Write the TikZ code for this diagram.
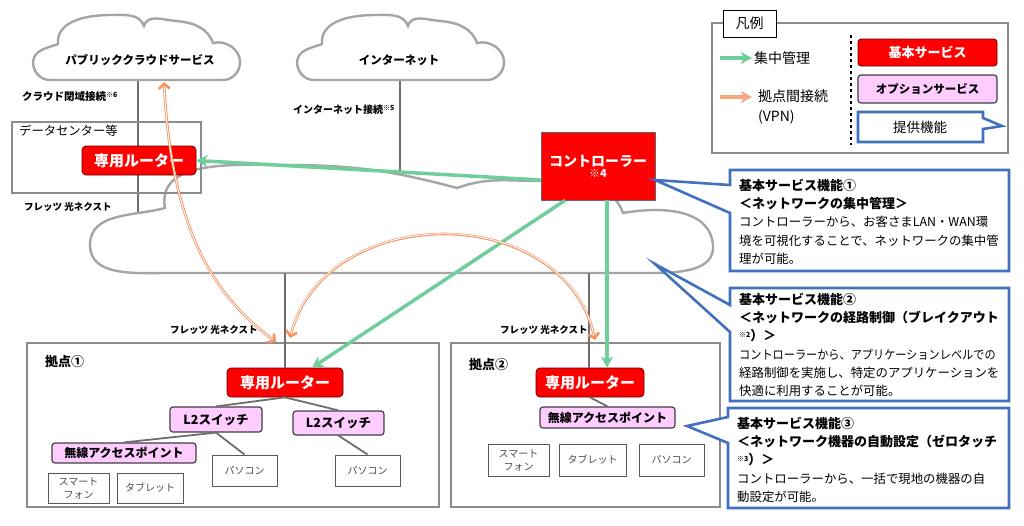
\documentclass[tikz,border=0pt]{standalone}
\usepackage{fontspec}
\setmainfont{Noto Sans CJK JP}
\usepackage{graphicx}
\usetikzlibrary{arrows.meta,positioning}

\definecolor{cloudgray}{RGB}{165,165,165}
\definecolor{linkgray}{RGB}{110,110,110}
\definecolor{boxgray}{RGB}{140,140,140}
\definecolor{nwred}{RGB}{255,0,0}
\definecolor{optpink}{RGB}{255,204,255}
\definecolor{mgmtgreen}{RGB}{112,206,155}
\definecolor{vpnorange}{RGB}{244,146,96}
\definecolor{calloutblue}{RGB}{65,113,190}

\newcommand\chead[1]{{\fontsize{13}{18.3}\selectfont\bfseries #1}}
\newcommand\noteno[1]{\raisebox{3pt}{\fontsize{7}{7}\selectfont #1}}

\begin{document}
\begin{tikzpicture}[x=1pt,y=1pt,
  cloudline/.style={draw=cloudgray,line width=2.4pt,fill=white},
  link/.style={draw=linkgray,line width=1.8pt},
  boxframe/.style={draw=boxgray,line width=1.2pt},
  router/.style={draw=red!35!black,line width=0.7pt,fill=nwred,rounded corners=4pt,text=white,
    font=\fontsize{15}{15}\selectfont\bfseries,inner sep=0pt,minimum height=29pt},
  optbox/.style={draw=black!75,line width=1.2pt,fill=optpink,rounded corners=3pt,
    font=\fontsize{12}{12}\selectfont\bfseries,inner sep=0pt},
  device/.style={draw=black!65,line width=1pt,fill=white,text=black!70,
    font=\fontsize{10}{13}\selectfont,align=center,inner sep=0pt},
  lbl/.style={anchor=west,inner sep=0pt,font=\fontsize{9.5}{9.5}\selectfont\bfseries},
  cloudtext/.style={inner sep=0pt,font=\fontsize{11.5}{11.5}\selectfont\bfseries},
  mgmt/.style={draw=mgmtgreen,line width=3.5pt,-{Stealth[length=11pt,width=12pt,inset=3pt]}},
  vpn/.style={draw=vpnorange,line width=2.6pt,{Straight Barb[length=5pt,width=11pt]}-{Straight Barb[length=5pt,width=11pt]},
    postaction={draw=white,line width=0.9pt,-,shorten >=4pt,shorten <=4pt}},
  vpnkey/.style={draw=vpnorange!80!white,line width=3.5pt,-{Stealth[length=11pt,width=12pt,inset=3pt]}},
  calloutbox/.style={draw=calloutblue,line width=2.6pt,fill=white,line join=miter},
  ctext/.style={anchor=north west,align=left,inner sep=0pt,font=\fontsize{12.4}{18.3}\selectfont}]

\useasboundingbox (0,0) rectangle (1024,-525);

\coordinate (pubB) at (138,-70);
\coordinate (bigT1) at (138,-230);
\coordinate (inetB) at (400,-70);
\coordinate (bigT2) at (400,-190);
\draw[link] (pubB) -- (bigT1);
\draw[link] (inetB) -- (bigT2);

\draw[cloudline,shift={(33,-62)}] (0,0) to[out=85,in=200] (25,18) to[out=95,in=180] (78,47) to[out=0,in=110] (111,36)
  to[out=75,in=175] (143,41) to[out=-5,in=110] (180,19) to[out=15,in=90] (207,0) to[out=-90,in=0] (190,-18)
  -- (17,-18) to[out=180,in=-90] (0,0) -- cycle;
\draw[cloudline,shift={(297,-62)}] (0,0) to[out=85,in=200] (25,18) to[out=95,in=180] (78,47) to[out=0,in=110] (111,36)
  to[out=75,in=175] (143,41) to[out=-5,in=110] (180,19) to[out=15,in=90] (207,0) to[out=-90,in=0] (190,-18)
  -- (17,-18) to[out=180,in=-90] (0,0) -- cycle;
\draw[cloudline] (90,-245) to[out=90,in=195] (165,-208) to[out=100,in=180] (285,-165) to[out=0,in=165] (457,-188)
  to[out=20,in=180] (540,-181) to[out=0,in=110] (623,-213) to[out=10,in=95] (713,-245) to[out=-85,in=0] (650,-273)
  -- (165,-273) to[out=180,in=-90] (90,-245) -- cycle;

\node[cloudtext] (pubt) at (140,-60) {パブリッククラウドサービス};
\node[cloudtext] (inett) at (399,-60) {インターネット};
\node[lbl,font=\fontsize{10.5}{10.5}\selectfont\bfseries] (clt) at (22,-97) {クラウド閉域接続\noteno{※6}};
\node[lbl,font=\fontsize{10}{10}\selectfont\bfseries] (inett2) at (293,-110) {インターネット接続\noteno{※5}};

\draw[boxframe] (12,-122) rectangle (201,-193);
\draw[boxframe] (27,-343) rectangle (439,-507);
\draw[boxframe] (451,-343) rectangle (720,-507);

\node[anchor=west,inner sep=0pt,font=\fontsize{12.3}{12.3}\selectfont] (dct) at (19,-131) {データセンター等};
\node[lbl] (flA) at (24,-207) {フレッツ 光ネクスト};
\node[lbl] (flB) at (170,-330) {フレッツ 光ネクスト};
\node[lbl] (flC) at (500,-330) {フレッツ 光ネクスト};
\node[anchor=west,inner sep=0pt,font=\fontsize{13}{13}\selectfont\bfseries] (sitAt) at (45,-362) {拠点①};
\node[anchor=west,inner sep=0pt,font=\fontsize{13}{13}\selectfont\bfseries] (sitBt) at (469,-365) {拠点②};

\node[router,minimum width=114pt] (dcrt) at (139,-160.5) {専用ルーター};
\node[router,minimum width=116pt] (rtA) at (285,-382.5) {専用ルーター};
\node[router,minimum width=108pt] (rtB) at (590,-382.5) {専用ルーター};
\node[draw=black!60,line width=0.8pt,fill=nwred,text=white,inner sep=0pt,minimum width=114pt,minimum height=68pt,
  align=center,font=\fontsize{14}{11}\selectfont\bfseries] (ctrl) at (598,-166) {コントローラー\\{\fontsize{11}{11}\selectfont ※4}};

\node[optbox,minimum width=92pt,minimum height=25pt,font=\fontsize{12.5}{12.5}\selectfont\bfseries] (swA1) at (216,-419.5) {L2スイッチ};
\node[optbox,minimum width=91pt,minimum height=24pt,font=\fontsize{12.5}{12.5}\selectfont\bfseries] (swA2) at (338.5,-423) {L2スイッチ};
\node[optbox,minimum width=144pt,minimum height=20pt] (apA) at (124,-453) {無線アクセスポイント};
\node[optbox,minimum width=135pt,minimum height=21pt] (apB) at (607.5,-417.5) {無線アクセスポイント};

\node[device,minimum width=65pt,minimum height=31pt] (pcA1) at (244.5,-470.5) {パソコン};
\node[device,minimum width=65pt,minimum height=31pt] (pcA2) at (367.5,-470.5) {パソコン};
\node[device,minimum width=61pt,minimum height=30pt] (smA) at (78.5,-488) {スマート\\フォン};
\node[device,minimum width=66pt,minimum height=30pt] (tbA) at (150,-488) {タブレット};
\node[device,minimum width=61pt,minimum height=32pt] (smB) at (518.5,-460) {スマート\\フォン};
\node[device,minimum width=67pt,minimum height=32pt] (tbB) at (592.5,-460) {タブレット};
\node[device,minimum width=65pt,minimum height=32pt] (pcB) at (671.5,-460) {パソコン};

\coordinate (bigB1) at (285,-273);
\coordinate (bigB2) at (589,-273);
\draw[link] (bigB1) -- (rtA.north);
\draw[link] (bigB2) -- (bigB2 |- rtB.north);
\draw[link] (rtA.south) -- (swA1.north);
\draw[link] (rtA.south) -- (swA2.north);
\draw[link] (swA1.south) -- (apA.north);
\draw[link] (swA1.south) -- (pcA1.north);
\draw[link] (swA2.south) -- (pcA2.north);
\draw[link] (rtB.south) -- (apB.north);

\draw[mgmt] ([yshift=-14pt]ctrl.west) -- (dcrt.east);
\draw[mgmt] ([xshift=-33pt]ctrl.south) -- ([xshift=27pt]rtA.north);
\draw[mgmt] ([xshift=9pt]ctrl.south) -- ([xshift=17pt]rtB.north);

\coordinate (vpnP) at (164,-82);
\coordinate (vpnA1) at (276,-342);
\coordinate (vpnA2) at (290,-338);
\coordinate (vpnB) at (595,-340);
\draw[vpn] (vpnP) .. controls (172,-240) and (220,-300) .. (vpnA1);
\draw[vpn] (vpnA2) .. controls (325,-200) and (565,-200) .. (vpnB);

\draw[calloutbox] (730,-170) -- (1009,-170) -- (1009,-271) -- (730,-271) -- (730,-213) -- (655,-180) -- (730,-185) -- cycle;
\draw[calloutbox] (730,-288) -- (1009,-288) -- (1009,-401) -- (730,-401) -- (730,-332) -- (655,-264) -- (730,-305) -- cycle;
\draw[calloutbox] (728,-408) -- (1009,-408) -- (1009,-508) -- (728,-508) -- (728,-443) -- (687,-426) -- (728,-417) -- cycle;

\node[ctext] (cA) at (739,-178.6) {\chead{基本サービス機能①}\\
  \chead{＜ネットワークの集中管理＞}\\
  コントローラーから、お客さまLAN・WAN環\\
  境を可視化することで、ネットワークの集中管\\
  理が可能。};
\node[ctext] (cB) at (739,-292.6) {\chead{基本サービス機能②}\\
  \chead{＜ネットワークの経路制御（ブレイクアウト}\\
  \chead{\noteno{※2}）＞}\\
  \scalebox{0.9}[1]{コントローラーから、アプリケーションレベルでの}\\
  経路制御を実施し、特定のアプリケーションを\\
  快適に利用することが可能。};
\node[ctext] (cC) at (737,-416.6) {\chead{基本サービス機能③}\\
  \chead{＜ネットワーク機器の自動設定（ゼロタッチ}\\
  \chead{\noteno{※3}）＞}\\
  コントローラーから、一括で現地の機器の自\\
  動設定が可能。};

\draw[boxframe] (712,-23) rectangle (1008,-153);
\node[draw=black,line width=1pt,fill=white,minimum width=53pt,minimum height=27pt,inner sep=0pt,
  font=\fontsize{14}{14}\selectfont] (lgt) at (749.5,-23.5) {凡例};
\coordinate (lgG1) at (720,-58);
\coordinate (lgG2) at (752,-58);
\draw[mgmt] (lgG1) -- (lgG2);
\node[anchor=west,inner sep=0pt,font=\fontsize{14}{14}\selectfont] (lgGt) at (754,-58) {集中管理};
\coordinate (lgV1) at (720,-97);
\coordinate (lgV2) at (752,-97);
\draw[vpnkey] (lgV1) -- (lgV2);
\node[anchor=west,align=left,inner sep=0pt,font=\fontsize{14}{20}\selectfont] (lgVt) at (758,-107) {拠点間接続\\(VPN)};
\draw[black,line width=1.2pt,dashed] (851,-35) -- (851,-145);
\node[router,rounded corners=3pt,minimum width=139pt,minimum height=27pt,font=\fontsize{13}{13}\selectfont\bfseries] (lgB) at (927.5,-52.5) {基本サービス};
\node[optbox,minimum width=139pt,minimum height=28pt,font=\fontsize{11.5}{11.5}\selectfont\bfseries] (lgO) at (927.5,-89) {オプションサービス};
\draw[calloutbox] (858,-112) -- (983,-112) -- (983,-118) -- (1002,-126) -- (983,-129) -- (983,-142) -- (858,-142) -- cycle;
\node[inner sep=0pt,font=\fontsize{13.5}{13.5}\selectfont] (lgC) at (920,-127) {提供機能};

\end{tikzpicture}
\end{document}
